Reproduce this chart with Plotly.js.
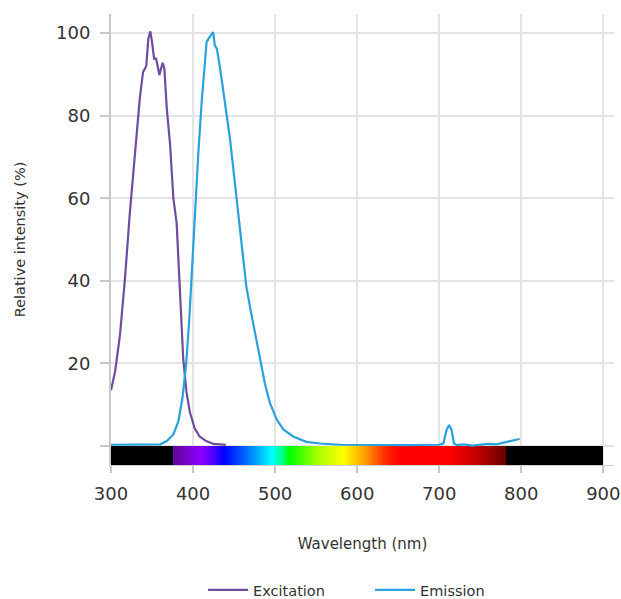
<!DOCTYPE html>
<html>
<head>
<meta charset="utf-8">
<script src="https://cdn.plot.ly/plotly-3.0.1.min.js"></script>
<style>html,body{margin:0;padding:0;background:#fff;}#chart{width:621px;height:599px;}</style>
</head>
<body>
<div id="chart"></div>
<script>
// Excitation spectrum (wavelength nm, relative intensity %)
const excitationWl = [300, 305, 311, 317, 323, 329, 331, 335, 339, 343, 345.5, 348, 350, 352.5, 355, 356.5, 359, 361, 363, 365, 368, 372, 376, 380, 384, 388, 392, 396, 402, 408, 416, 425, 440];
const excitationVal = [13.5, 18, 27, 40.5, 56.5, 71, 74.4, 84, 90.5, 92, 98.6, 100.4, 97.8, 93.8, 93.8, 92.2, 89.8, 91.4, 92.8, 91.4, 81.7, 73, 60, 54, 37.3, 21.2, 13.1, 8.3, 4.3, 2.3, 1.2, 0.5, 0.3];

// Emission spectrum
const emissionWl = [300, 340, 360, 368, 376, 382, 387, 391.5, 395.5, 399, 402.5, 406.5, 410.5, 414, 416.5, 420, 422.5, 424.5, 426.5, 429, 433, 437, 441, 445, 449, 453, 457, 461, 465, 471, 475.5, 481.5, 487.5, 493.5, 502, 510, 522, 538, 555, 580, 620, 660, 700, 705, 709, 712, 715, 718, 722, 730, 740, 750, 760, 770, 780, 785, 790, 798];
const emissionVal = [0.3, 0.3, 0.4, 1.2, 2.8, 5.9, 11.5, 19.6, 30.9, 43.8, 57.5, 71.2, 83.3, 92.2, 97.8, 99, 99.8, 100.2, 97, 96.2, 91.4, 85.7, 79.3, 74.4, 67.2, 60, 52.7, 45.4, 38.5, 32, 27.2, 21, 15.2, 10.5, 6.4, 4, 2.3, 1.0, 0.6, 0.3, 0.2, 0.2, 0.3, 0.6, 3.9, 5.1, 3.9, 0.6, 0.2, 0.4, 0.1, 0.3, 0.5, 0.4, 0.8, 1.0, 1.2, 1.7];

// Axis ticks
const xTicks = [300, 400, 500, 600, 700, 800, 900];
const yTicks = [0, 20, 40, 60, 80, 100];
const yTickText = ['', '20', '40', '60', '80', '100'];

// Visible spectrum colour strip: stop wavelengths and colours
const stripWl =    [300, 375.4, 375.6, 392, 410, 425, 438, 462, 482, 496, 508, 518, 550, 583, 610, 635, 652, 712, 745, 781.5, 782, 900];
const stripColor = ['#000000', '#000000', '#5c0a94', '#7a00c8', '#8a00ff', '#4a00ff', '#0000ff', '#0060ff', '#00b8ff', '#00ffff', '#00ff90', '#00ff00', '#a0ff00', '#ffff00', '#ff9a00', '#ff2a00', '#ff0000', '#ff0000', '#c40000', '#6a0000', '#000000', '#000000'];
const stripBottom = -4.6, stripTop = 0;

const wlMin = stripWl[0], wlMax = stripWl[stripWl.length - 1];
const colorscale = stripWl.map((w, i) => [(w - wlMin) / (wlMax - wlMin), stripColor[i]]);
const stripEdges = [], stripZ = [];
for (let w = wlMin; w <= wlMax; w += 1) stripEdges.push(w);
for (let i = 0; i < stripEdges.length - 1; i++) stripZ.push(stripEdges[i] + 0.5);

const font = 'DejaVu Sans, sans-serif';

const traces = [
  {
    type: 'heatmap', x: stripEdges, y: [stripBottom, stripTop], z: [stripZ],
    colorscale: colorscale, zmin: wlMin, zmax: wlMax, showscale: false,
    hoverinfo: 'skip', showlegend: false
  },
  {
    type: 'scatter', mode: 'lines', name: 'Excitation',
    x: excitationWl, y: excitationVal,
    line: {color: '#6e4c9e', width: 2.2}
  },
  {
    type: 'scatter', mode: 'lines', name: 'Emission',
    x: emissionWl, y: emissionVal,
    line: {color: '#2aa0dc', width: 2.2}
  }
];

const layout = {
  width: 621, height: 599,
  margin: {l: 111, r: 7, t: 14, b: 134, autoexpand: false},
  paper_bgcolor: '#ffffff', plot_bgcolor: '#ffffff',
  font: {family: font, color: '#333333'},
  showlegend: true,
  legend: {
    orientation: 'h', xref: 'container', yref: 'container',
    x: 0.327, xanchor: 'left', y: 0.015, yanchor: 'middle',
    font: {family: font, size: 14.5, color: '#333333'}, itemwidth: 40,
    entrywidth: 112, entrywidthmode: 'pixels'
  },
  xaxis: {
    range: [300, 913], tickvals: xTicks, ticktext: xTicks.map(String),
    showgrid: true, gridcolor: '#e4e4e4', gridwidth: 2,
    zeroline: false, showline: true, linecolor: '#cfcfcf', linewidth: 1,
    ticks: 'outside', ticklen: 7, tickwidth: 2, tickcolor: '#c8c8c8',
    ticklabelstandoff: 5,
    tickfont: {family: font, size: 18, color: '#333333'},
    title: {text: 'Wavelength (nm)', font: {family: font, size: 15, color: '#333333'}, standoff: 35}
  },
  yaxis: {
    range: [-4.6, 104.6], tickvals: yTicks, ticktext: yTickText,
    showgrid: true, gridcolor: '#e4e4e4', gridwidth: 2,
    zeroline: false, showline: true, linecolor: '#c8c8c8', linewidth: 2,
    ticks: 'outside', ticklen: 9, tickwidth: 2, tickcolor: '#c8c8c8',
    ticklabelstandoff: 6,
    tickfont: {family: font, size: 18, color: '#333333'},
    title: {text: 'Relative intensity (%)', font: {family: font, size: 14.5, color: '#333333'}, standoff: 27}
  }
};

Plotly.newPlot('chart', traces, layout, {displayModeBar: false, staticPlot: true});
</script>
</body>
</html>
